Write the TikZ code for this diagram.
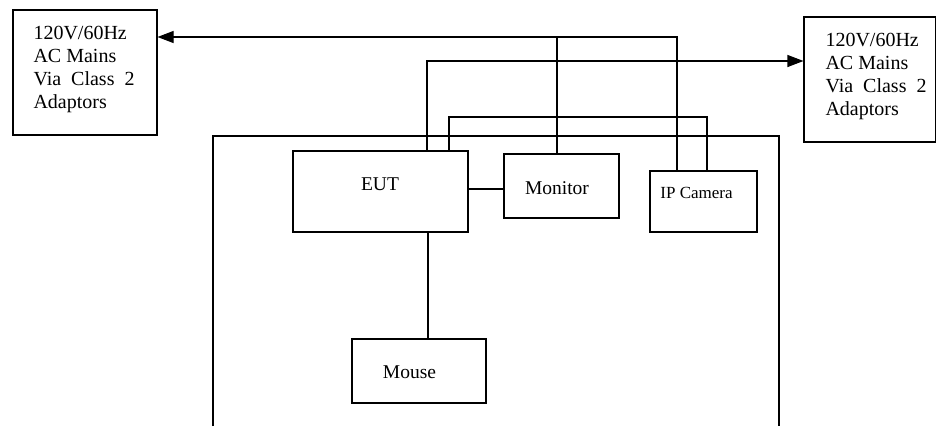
\documentclass[tikz,border=0pt]{standalone}
\usepackage{fontspec}
\setmainfont{Liberation Serif}
\usetikzlibrary{arrows.meta}
\begin{document}
\begin{tikzpicture}[x=1pt,y=-1pt, line width=1.1pt,
  boxst/.style={draw, line width=1.1pt, rectangle, inner sep=0pt},
  bigtxt/.style={inner sep=0pt, font=\fontsize{20}{23}\selectfont},
  lbl/.style={inner sep=0pt, anchor=base, font=\fontsize{19.5}{23}\selectfont},
  sml/.style={inner sep=0pt, anchor=base, font=\fontsize{17}{20}\selectfont},
  arr/.style={-{Triangle[length=16pt,width=12pt]}}]
\useasboundingbox (0,0) rectangle (937,426);

% power boxes
\node[boxst, minimum width=144pt, minimum height=125pt] (L) at (85,72.5) {};
\node[bigtxt, anchor=north west, align=left] (Ltxt) at (33,26) {120V/60Hz\\AC Mains\\Via\hspace{10pt}Class\hspace{10pt}2\\Adaptors};
\node[boxst, minimum width=131.5pt, minimum height=125pt] (R) at (869.75,79.5) {};
\node[bigtxt, anchor=north west, align=left] (Rtxt) at (825,33) {120V/60Hz\\AC Mains\\Via\hspace{10pt}Class\hspace{10pt}2\\Adaptors};

% enclosure (open at bottom)
\coordinate (encBL) at (213,426);
\coordinate (encTL) at (213,136);
\coordinate (encTR) at (779,136);
\coordinate (encBR) at (779,426);
\draw (encBL) -- (encTL) -- (encTR) -- (encBR);

% devices
\node[boxst, minimum width=175pt, minimum height=81pt] (eut) at (380.5,191.5) {};
\node[lbl] (euttxt) at (380,190) {EUT};
\node[boxst, minimum width=115pt, minimum height=64pt] (mon) at (561.5,186) {};
\node[lbl] (montxt) at (557,194) {Monitor};
\node[boxst, minimum width=107pt, minimum height=61pt] (cam) at (703.5,201.5) {};
\node[sml] (camtxt) at (696.5,198.5) {IP Camera};
\node[boxst, minimum width=134pt, minimum height=64pt] (mouse) at (419,371) {};
\node[lbl] (mousetxt) at (409.5,378) {Mouse};

% routing points
\coordinate (y1) at (0,37);
\coordinate (y2) at (0,61);
\coordinate (y3) at (0,117);
\coordinate (xa) at (427,0);
\coordinate (xb) at (449,0);
\coordinate (xm) at (557,0);
\coordinate (xc) at (677,0);
\coordinate (xd) at (707,0);
\coordinate (xs) at (428,0);
\coordinate (ye) at (0,189);

% top line: camera -> left mains
\draw[arr] (cam.north -| xc) -- (xc |- y1) -- (L.east |- y1);
\draw (mon.north -| xm) -- (xm |- y1);
% EUT -> right mains
\draw[arr] (eut.north -| xa) -- (xa |- y2) -- (R.west |- y2);
% EUT -> camera
\draw (eut.north -| xb) -- (xb |- y3) -- (xd |- y3) -- (cam.north -| xd);
% EUT -> monitor
\draw (eut.east |- ye) -- (mon.west |- ye);
% EUT -> mouse
\draw (eut.south -| xs) -- (mouse.north -| xs);
\end{tikzpicture}
\end{document}
